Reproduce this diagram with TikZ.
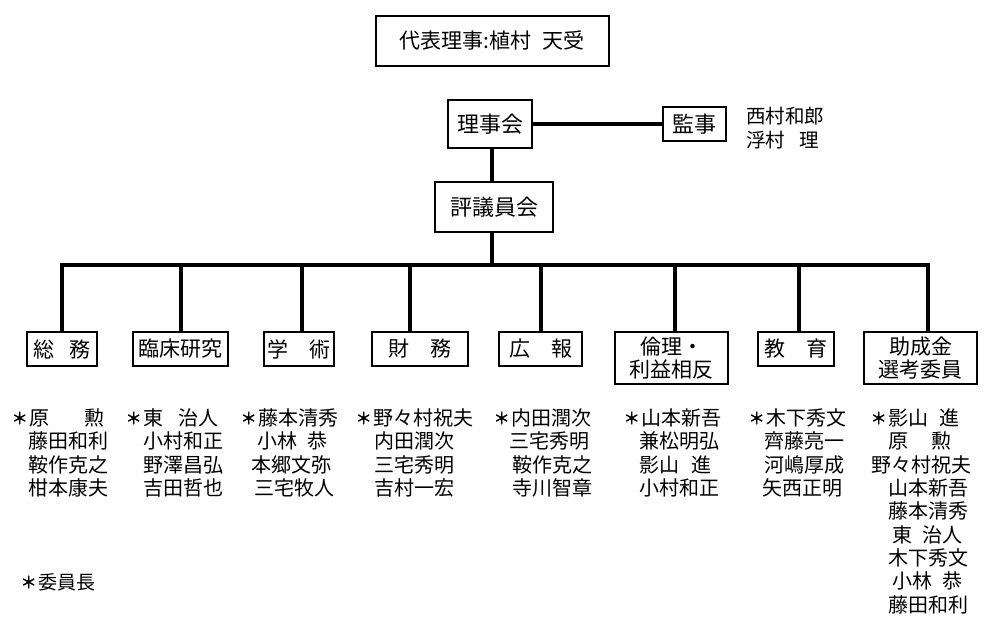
\documentclass[tikz,border=0pt]{standalone}
\usepackage{fontspec}
\setmainfont{Noto Sans CJK JP}
\newfontfamily\astfont[FakeBold=2.5]{Noto Sans CJK JP}
\newcommand\mline[4]{\node[member] (#1) at (#2,#3) {#4};}
\newcommand\chairmark{\llap{\raisebox{1.5pt}{\astfont\fontsize{16}{16}\selectfont ＊}\hspace{1.5pt}}}
\begin{document}
\begin{tikzpicture}[x=1pt,y=-1pt,
  box/.style={draw, line width=2pt, inner sep=0pt, align=center, font=\fontsize{21}{23}\selectfont},
  bigbox/.style={box, font=\fontsize{22}{24}\selectfont},
  link/.style={line width=3.5pt, line join=miter},
  member/.style={anchor=base west, inner sep=0pt, font=\fontsize{20}{23}\selectfont},
]
\useasboundingbox (0,0) rectangle (1000,630);

% top level
\node[box, minimum width=233pt, minimum height=50pt] (top) at (492,41) {代表理事:植村\hspace{0.5em}天受};
\node[bigbox, minimum width=84pt, minimum height=48pt] (rijikai) at (490,124) {理事会};
\node[bigbox, minimum width=63pt, minimum height=34pt] (kanji) at (694.5,124) {監事};
\node[bigbox, minimum width=118pt, minimum height=50pt] (hyogi) at (494,207) {評議員会};
\node[member, font=\fontsize{19.5}{24}\selectfont] (kanji1) at (746,123.4) {西村和郎};
\node[member, font=\fontsize{19.5}{24}\selectfont] (kanji2) at (746,147.4) {浮村\hspace{0.75em}理};

% departments
\node[box, minimum width=70pt, minimum height=34pt] (d1) at (62,349) {総\hspace{0.75em}務};
\node[box, minimum width=95pt, minimum height=34pt] (d2) at (180.5,349) {臨床研究};
\node[box, minimum width=70pt, minimum height=34pt] (d3) at (299,349) {学　術};
\node[box, minimum width=96pt, minimum height=34pt] (d4) at (420,349) {財　務};
\node[box, minimum width=83pt, minimum height=34pt] (d5) at (540.5,349) {広　報};
\node[box, minimum width=113pt, minimum height=52pt] (d6) at (671.5,358) {倫理・\\利益相反};
\node[box, minimum width=76pt, minimum height=34pt] (d7) at (796,349) {教　育};
\node[box, minimum width=113pt, minimum height=52pt] (d8) at (920.5,358) {助成金\\選考委員};

% connectors
\draw[link] (rijikai) -- (kanji);
\coordinate (v) at (492,0);
\coordinate (bus) at (492,265);
\draw[link] (v |- rijikai.south) -- (v |- hyogi.north);
\draw[link] (v |- hyogi.south) -- (bus);
\coordinate (x1) at (62,265);
\coordinate (x2) at (181,265);
\coordinate (x3) at (302,265);
\coordinate (x4) at (410,265);
\coordinate (x5) at (541,265);
\coordinate (x6) at (675,265);
\coordinate (x7) at (799,265);
\coordinate (x8) at (928,265);
\draw[link] (x1 |- d1.north) -- (x1) -- (x8) -- (x8 |- d8.north);
\foreach \i in {2,...,7} { \draw[link] (x\i) -- (x\i |- d\i.north); }

% members
\mline{a1}{29}{425.6}{\chairmark 原\hspace{1.75em}勲}
\mline{a2}{28}{448.9}{藤田和利}
\mline{a3}{28}{472.2}{鞍作克之}
\mline{a4}{28}{495.5}{柑本康夫}

\mline{b1}{143}{425.6}{\chairmark 東\hspace{0.75em}治人}
\mline{b2}{143}{448.9}{小村和正}
\mline{b3}{143}{472.2}{野澤昌弘}
\mline{b4}{143}{495.5}{吉田哲也}

\mline{c1}{258}{425.6}{\chairmark 藤本清秀}
\mline{c2}{257}{448.9}{小林\hspace{0.5em}恭}
\mline{c3}{251}{472.2}{本郷文弥}
\mline{c4}{254}{495.5}{三宅牧人}

\mline{e1}{373}{425.6}{\chairmark 野々村祝夫}
\mline{e2}{374}{448.9}{内田潤次}
\mline{e3}{374}{472.2}{三宅秀明}
\mline{e4}{374}{495.5}{吉村一宏}

\mline{f1}{511}{425.6}{\chairmark 内田潤次}
\mline{f2}{509}{448.9}{三宅秀明}
\mline{f3}{512}{472.2}{鞍作克之}
\mline{f4}{512}{495.5}{寺川智章}

\mline{g1}{641}{425.6}{\chairmark 山本新吾}
\mline{g2}{639}{448.9}{兼松明弘}
\mline{g3}{639}{472.2}{影山\hspace{0.6em}進}
\mline{g4}{639}{495.5}{小村和正}

\mline{h1}{766}{425.6}{\chairmark 木下秀文}
\mline{h2}{764}{448.9}{齊藤亮一}
\mline{h3}{764}{472.2}{河嶋厚成}
\mline{h4}{762}{495.5}{矢西正明}

\mline{k1}{888}{425.6}{\chairmark 影山\hspace{0.55em}進}
\mline{k2}{888}{448.9}{原\hspace{1.15em}勲}
\mline{k3}{871}{472.2}{野々村祝夫}
\mline{k4}{888}{495.5}{山本新吾}
\mline{k5}{888}{518.8}{藤本清秀}
\mline{k6}{892}{542.1}{東\hspace{0.5em}治人}
\mline{k7}{888}{565.4}{木下秀文}
\mline{k8}{892}{588.7}{小林\hspace{0.5em}恭}
\mline{k9}{888}{612}{藤田和利}

\node[member, font=\fontsize{19}{23}\selectfont] (note) at (38,589.6) {\chairmark 委員長};
\end{tikzpicture}
\end{document}
